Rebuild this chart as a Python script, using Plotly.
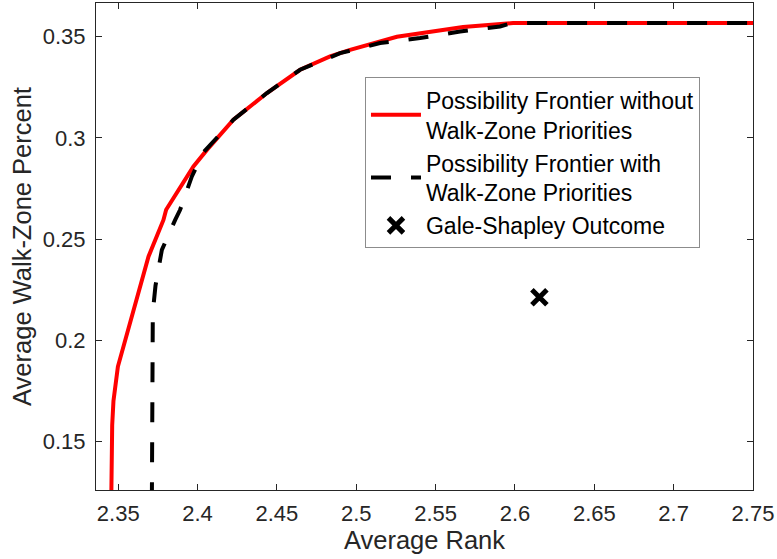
import plotly.graph_objects as go

# Possibility frontier without walk-zone priorities (red solid)
red_x = [2.3456, 2.3458, 2.3462, 2.3470, 2.3482, 2.3498, 2.3691, 2.3785, 2.3802, 2.3974, 2.4059,
         2.4226, 2.4437, 2.4646, 2.4835, 2.4961, 2.5256, 2.5673, 2.5988, 2.75]
red_y = [0.120, 0.140, 0.158, 0.170, 0.179, 0.187, 0.2414, 0.2595, 0.2645, 0.2859, 0.2941,
         0.309, 0.3222, 0.3337, 0.3403, 0.3435, 0.350, 0.3548, 0.3568, 0.3568]

# Possibility frontier with walk-zone priorities (black dashed)
blk_x = [2.3712, 2.3712, 2.3718, 2.3735, 2.3775, 2.3859, 2.3890, 2.3964, 2.4035,
         2.4226, 2.4437, 2.4646, 2.4898, 2.5150, 2.5402, 2.5654, 2.5906, 2.5980, 2.75]
blk_y = [0.120, 0.200, 0.214, 0.227, 0.2447, 0.2595, 0.2645, 0.281, 0.2927,
         0.309, 0.3222, 0.3337, 0.3419, 0.3469, 0.3494, 0.3526, 0.3551, 0.3568, 0.3568]

# Gale-Shapley outcome
gs_x = [2.6154]
gs_y = [0.2213]

x_ticks = [2.35, 2.4, 2.45, 2.5, 2.55, 2.6, 2.65, 2.7, 2.75]
x_labels = ["2.35", "2.4", "2.45", "2.5", "2.55", "2.6", "2.65", "2.7", "2.75"]
y_ticks = [0.15, 0.2, 0.25, 0.3, 0.35]
y_labels = ["0.15", "0.2", "0.25", "0.3", "0.35"]

AX = "#262626"
FONT = "Liberation Sans, Arial, sans-serif"

fig = go.Figure()
fig.add_trace(go.Scatter(
    x=red_x, y=red_y, mode="lines",
    name="Possibility Frontier without<br>Walk-Zone Priorities",
    line=dict(color="#ff0000", width=4)))
fig.add_trace(go.Scatter(
    x=blk_x, y=blk_y, mode="lines",
    name="Possibility Frontier with<br>Walk-Zone Priorities",
    line=dict(color="#000000", width=4, dash="20px,20px")))
fig.add_trace(go.Scatter(
    x=gs_x, y=gs_y, mode="markers",
    name="Gale-Shapley Outcome",
    marker=dict(symbol="x-thin", size=15, color="#000000",
                line=dict(color="#000000", width=5))))

axis_common = dict(
    showline=True, linecolor=AX, linewidth=1, mirror="ticks",
    ticks="inside", ticklen=6, tickcolor=AX, tickwidth=1,
    showgrid=False, zeroline=False,
    tickfont=dict(family=FONT, size=22, color=AX),
)

fig.update_layout(
    width=777, height=559,
    margin=dict(l=96, r=24, t=3, b=69),
    paper_bgcolor="white", plot_bgcolor="white",
    font=dict(family=FONT, color=AX),
    showlegend=True,
    legend=dict(
        x=0.4094, y=0.8474, xanchor="left", yanchor="top",
        bgcolor="white", bordercolor="#8c8c8c", borderwidth=1,
        font=dict(family=FONT, size=23, color="#000000"),
        tracegroupgap=15, itemwidth=50,
    ),
    xaxis=dict(
        range=[2.336, 2.75], tickvals=x_ticks, ticktext=x_labels,
        ticklabelstandoff=4,
        title=dict(text="Average Rank", font=dict(family=FONT, size=25.5, color=AX), standoff=5),
        **axis_common),
    yaxis=dict(
        range=[0.126, 0.3667], tickvals=y_ticks, ticktext=y_labels,
        ticklabelstandoff=5,
        title=dict(text="Average Walk-Zone Percent", font=dict(family=FONT, size=25.5, color=AX), standoff=3),
        **axis_common),
)
fig.update_xaxes(automargin=False)
fig.update_yaxes(automargin=False)

fig.write_html("out.html")
